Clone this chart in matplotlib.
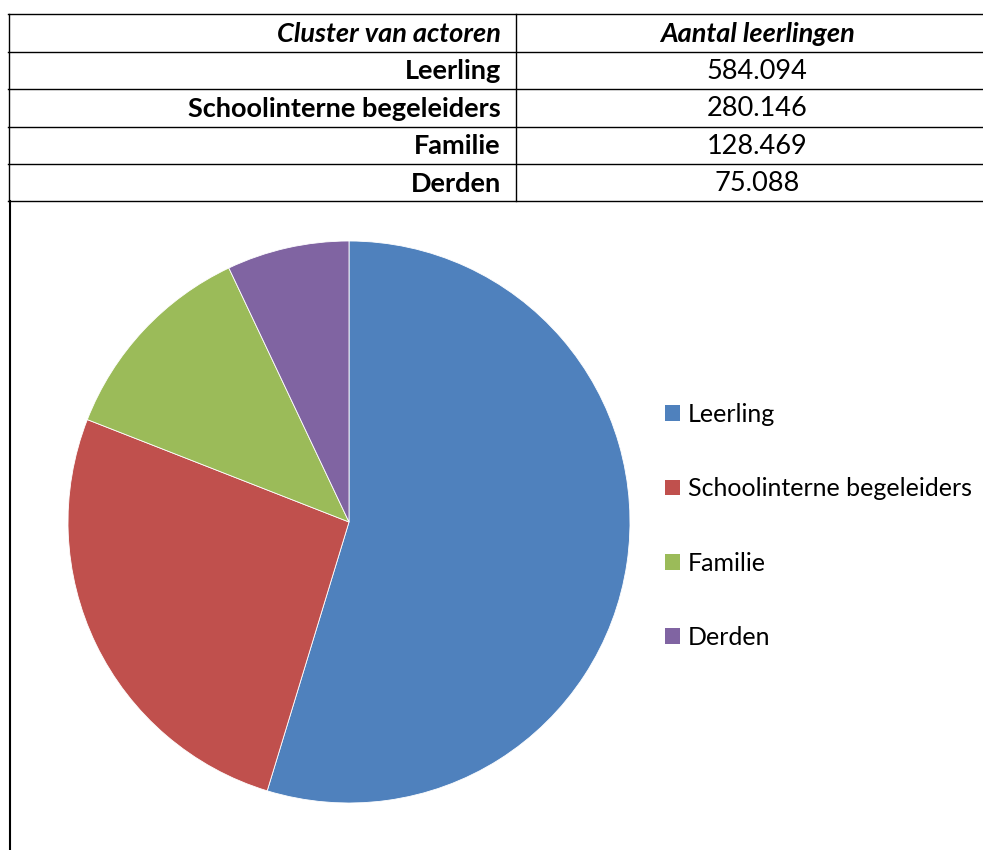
import matplotlib.pyplot as plt
from matplotlib.lines import Line2D
from matplotlib.patches import Patch

header = ['Cluster van actoren', 'Aantal leerlingen']
clusters = ['Leerling', 'Schoolinterne begeleiders', 'Familie', 'Derden']
values = [584094, 280146, 128469, 75088]
value_labels = ['584.094', '280.146', '128.469', '75.088']
colors = ['#4F81BD', '#C0504D', '#9BBB59', '#8064A2']

W, H = 983, 850
plt.rcParams['font.family'] = ['Lato', 'DejaVu Sans']

fig = plt.figure(figsize=(W / 100, H / 100), dpi=100)

def fx(x):
    return x / W

def fy(y):
    return 1 - y / H

def hline(y, x0, x1, lw=1.0):
    fig.add_artist(Line2D([fx(x0), fx(x1)], [fy(y), fy(y)], color='black', lw=lw,
                          transform=fig.transFigure))

def vline(x, y0, y1, lw=1.0):
    fig.add_artist(Line2D([fx(x), fx(x)], [fy(y0), fy(y1)], color='black', lw=lw,
                          transform=fig.transFigure))

# table
row_y = [14, 51.5, 89, 126.5, 164, 201]
for y in row_y:
    hline(y, 8, 983)
vline(8.5, 14, 201)
vline(516, 14, 201)

fsz = 19.5
mid = lambda i: (row_y[i] + row_y[i + 1]) / 2 + 1
fig.text(fx(501), fy(mid(0)), header[0], ha='right', va='center', fontsize=fsz,
         style='italic', fontweight='bold')
fig.text(fx(757), fy(mid(0)), header[1], ha='center', va='center', fontsize=fsz,
         style='italic', fontweight='bold')
for i, (c, v) in enumerate(zip(clusters, value_labels)):
    fig.text(fx(501), fy(mid(i + 1)), c, ha='right', va='center', fontsize=fsz,
             fontweight='bold')
    fig.text(fx(757), fy(mid(i + 1)), v, ha='center', va='center', fontsize=fsz)

# chart area border (left side)
vline(9.5, 201, 850, lw=1.5)

# pie
cx, cy, r = 349, 522, 281
ax = fig.add_axes([fx(cx - r), fy(cy + r), 2 * r / W, 2 * r / H])
ax.pie(values, colors=colors, startangle=90, counterclock=False, radius=1,
       wedgeprops=dict(linewidth=0.6, edgecolor='white'))
ax.set_xlim(-1, 1)
ax.set_ylim(-1, 1)
ax.set_aspect('equal')
ax.axis('off')

handles = [Patch(facecolor=col, edgecolor='none') for col in colors]
fig.legend(handles, clusters, loc='center left',
           bbox_to_anchor=(fx(665), fy(526)), frameon=False, fontsize=18,
           handlelength=0.6, handleheight=0.6, handletextpad=0.3,
           labelspacing=2.05, borderaxespad=0, borderpad=0)

fig.savefig('out.png', dpi=100)
